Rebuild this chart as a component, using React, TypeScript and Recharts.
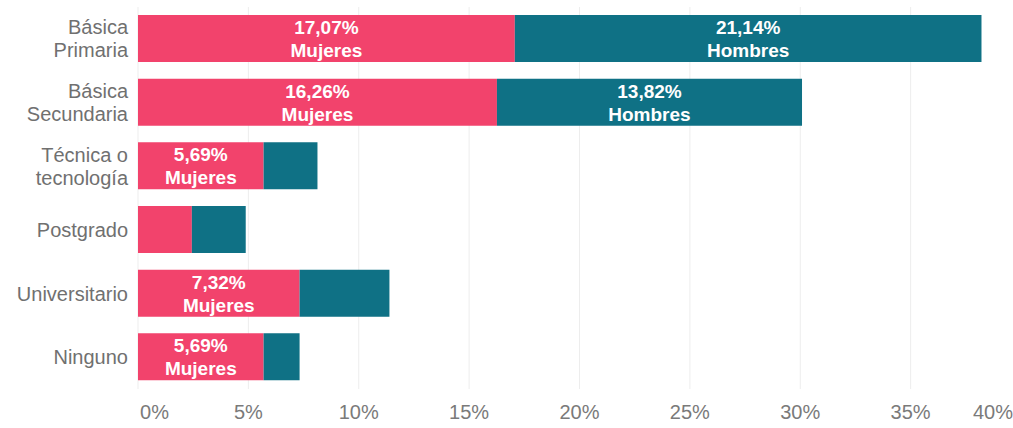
import React from 'react';
import { BarChart, Bar, XAxis, YAxis, CartesianGrid, LabelList } from 'recharts';

const categorias = [
  'Básica Primaria',
  'Básica Secundaria',
  'Técnica o tecnología',
  'Postgrado',
  'Universitario',
  'Ninguno',
];
// porcentaje sobre el total de personas
const mujeres = [17.07, 16.26, 5.69, 2.44, 7.32, 5.69];
const hombres = [21.14, 13.82, 2.44, 2.44, 4.07, 1.63];
const ticksX = [0, 5, 10, 15, 20, 25, 30, 35, 40];

// saltos de línea de las etiquetas del eje
const lineasCategoria: Record<string, string[]> = {
  'Básica Primaria': ['Básica', 'Primaria'],
  'Básica Secundaria': ['Básica', 'Secundaria'],
  'Técnica o tecnología': ['Técnica o', 'tecnología'],
};

const data = categorias.map((c, i) => ({
  categoria: c,
  Mujeres: mujeres[i],
  Hombres: hombres[i],
}));

const FONT = '"Liberation Sans", Arial, sans-serif';
const ROSA = '#F2436C';
const AZUL = '#0F7185';

const fmt = (v: number) => v.toFixed(2).replace('.', ',') + '%';

const CategoriaTick = (props: any) => {
  const { x, y, payload } = props;
  const lineas = lineasCategoria[payload.value] || [payload.value];
  const start = -((lineas.length - 1) * 23) / 2;
  return (
    <text x={x} y={y} textAnchor="end" fill="#707070" fontSize={20} fontFamily={FONT}>
      {lineas.map((l, i) => (
        <tspan key={i} x={x} y={y + start + i * 23 + 7}>
          {l}
        </tspan>
      ))}
    </text>
  );
};

const PorcentajeTick = (props: any) => {
  const { x, y, payload } = props;
  let anchor: 'start' | 'middle' | 'end' = 'middle';
  let px = x;
  if (payload.value === 0) {
    anchor = 'start';
    px = x + 2;
  } else if (payload.value === 40) {
    anchor = 'end';
    px = 1013;
  }
  return (
    <text x={px} y={y + 30} textAnchor={anchor} fill="#7a7a7a" fontSize={20} fontFamily={FONT}>
      {payload.value}%
    </text>
  );
};

const etiqueta = (nombre: string) => (props: any) => {
  const { x, y, width, height, value } = props;
  if (value < 5) return null;
  const cx = x + width / 2;
  const cy = y + height / 2;
  return (
    <text textAnchor="middle" fill="#ffffff" fontSize={19} fontWeight="bold" fontFamily={FONT}>
      <tspan x={cx} y={cy - 11.5 + 7}>{fmt(value)}</tspan>
      <tspan x={cx} y={cy + 11.5 + 7}>{nombre}</tspan>
    </text>
  );
};

export default function App() {
  return (
    <div style={{ position: 'absolute', left: 0, top: 0, background: '#fff' }}>
      <BarChart
        width={1013}
        height={428}
        data={data}
        layout="vertical"
        margin={{ top: 7, right: -8, bottom: 0, left: 0 }}
        barSize={47}
      >
        <CartesianGrid horizontal={false} stroke="#ededed" />
        <XAxis
          type="number"
          domain={[0, 40]}
          ticks={ticksX}
          interval={0}
          axisLine={false}
          tickLine={false}
          tickSize={0}
          tickMargin={0}
          height={39}
          tick={<PorcentajeTick />}
        />
        <YAxis
          type="category"
          dataKey="categoria"
          width={138}
          axisLine={false}
          tickLine={false}
          tickSize={0}
          tickMargin={10}
          interval={0}
          tick={<CategoriaTick />}
        />
        <Bar dataKey="Mujeres" stackId="a" fill={ROSA} isAnimationActive={false}>
          <LabelList dataKey="Mujeres" content={etiqueta('Mujeres')} />
        </Bar>
        <Bar dataKey="Hombres" stackId="a" fill={AZUL} isAnimationActive={false}>
          <LabelList dataKey="Hombres" content={etiqueta('Hombres')} />
        </Bar>
      </BarChart>
    </div>
  );
}
